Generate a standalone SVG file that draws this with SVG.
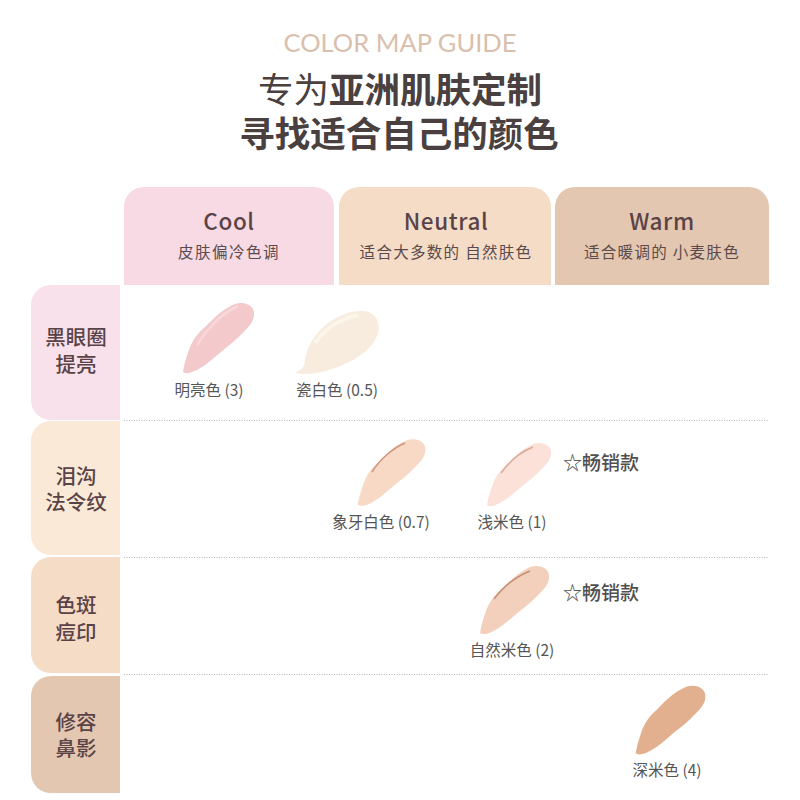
<svg xmlns="http://www.w3.org/2000/svg" width="800" height="800" viewBox="0 0 800 800">
<style>
text{font-family:"Noto Sans CJK SC","Noto Sans",sans-serif;text-anchor:middle}
.t1{font-size:35.500px;font-weight:700;fill:#4a4040}
.h{font-size:22.5px;font-weight:500;fill:#5a4347;letter-spacing:.6px}
.s{font-size:15.500px;fill:#5a4a4c;letter-spacing:1.500px}
.r{font-size:20.500px;font-weight:500;fill:#5a4347}
.l{font-size:15.500px;fill:#555}
.b{font-size:19px;font-weight:500;fill:#4f4f4f}
.d{stroke:#b5b5b5;stroke-width:1;stroke-dasharray:1 1.5;fill:none}
</style>
<defs>
<path id="sw" d="M-36 34C-35 27-32 17-29 9C-25 0-20-6-14-11C-5-20 2-27 10-31C15-34 18-35 22-35C30-35 36-30 35-23C35-19 33-16 31-13C25-6 16 3 8 9C0 15-7 22-14 27C-20 31-28 36-34 35Z"/>
<filter id="soft" x="-10%" y="-10%" width="120%" height="120%"><feGaussianBlur stdDeviation="0.5"/></filter>
</defs>
<rect width="800" height="800" fill="#fff"/>
<g id="title">
<text x="400" y="52" font-size="25.5" fill="#d9c0ae" style="font-family:'Lato','Noto Sans',sans-serif">COLOR MAP GUIDE</text>
<text class="t1"><tspan x="400" y="103"><tspan font-weight="400">专为</tspan>亚洲肌肤定制</tspan><tspan x="399" y="147">寻找适合自己的颜色</tspan></text>
</g>
<g id="col-cool"><path d="M124 285V207a20 20 0 0 1 20-20H314a20 20 0 0 1 20 20V285Z" fill="#f8dae4"/><text x="229" y="230" class="h">Cool</text><text x="229" y="258" class="s">皮肤偏冷色调</text></g>
<g id="col-neutral"><path d="M339 285V207a20 20 0 0 1 20-20H531a20 20 0 0 1 20 20V285Z" fill="#f5dcc7"/><text x="446" y="230" class="h">Neutral</text><text x="446" y="258" class="s" style="letter-spacing:1.300px">适合大多数的 自然肤色</text></g>
<g id="col-warm"><path d="M555 285V207a20 20 0 0 1 20-20H749a20 20 0 0 1 20 20V285Z" fill="#e4c7b1"/><text x="662" y="230" class="h">Warm</text><text x="662" y="258" class="s" style="letter-spacing:1.300px">适合暖调的 小麦肤色</text></g>
<g id="row-1"><path d="M120 285V420H51a20 20 0 0 1-20-20V305a20 20 0 0 1 20-20Z" fill="#f8e1ea"/><text class="r"><tspan x="76" y="345">黑眼圈</tspan><tspan x="76" y="372">提亮</tspan></text></g>
<g id="row-2"><path d="M120 421V555H51a20 20 0 0 1-20-20V441a20 20 0 0 1 20-20Z" fill="#fbe9d7"/><text class="r"><tspan x="76" y="484">泪沟</tspan><tspan x="76" y="510">法令纹</tspan></text></g>
<g id="row-3"><path d="M120 557V673H51a20 20 0 0 1-20-20V577a20 20 0 0 1 20-20Z" fill="#f5dcc7"/><text class="r"><tspan x="76" y="613">色斑</tspan><tspan x="76" y="640">痘印</tspan></text></g>
<g id="row-4"><path d="M120 676V793H51a20 20 0 0 1-20-20V696a20 20 0 0 1 20-20Z" fill="#e4c7b1"/><text class="r"><tspan x="76" y="730">修容</tspan><tspan x="76" y="756">鼻影</tspan></text></g>
<g id="connectors">
<path class="d" d="M124 420.500H769M124 557.500H769M124 674.500H769"/>
</g>
<g id="shade-bright"><use href="#sw" transform="translate(219 338)" fill="#f4c9cb"/><path d="M197 345C207 329 222 313 238 306" stroke="#f8d8da" stroke-width="2.500" fill="none" filter="url(#soft)"/><text x="209" y="396" class="l">明亮色 (3)</text></g>
<g id="shade-porcelain"><path d="M295 373C300 371 305 367 305 360C307 352 308 347 312 341C322 324 342 311 362 311C375 311 381 322 378 333C374 347 360 357 345 364C330 371 310 376 295 373Z" fill="#f7ecdd"/><path d="M315 343C325 329 340 319 358 315" stroke="#fbf5ea" stroke-width="4" fill="none" filter="url(#soft)"/><text x="337" y="396" class="l">瓷白色 (0.5)</text></g>
<g id="shade-ivory"><use href="#sw" transform="translate(392 472.500) scale(.95)" fill="#f7d9c5"/><path d="M372 472C380 459 393 448 405 443" stroke="#cf9478" stroke-width="1.500" fill="none" filter="url(#soft)"/><text x="381" y="528" class="l">象牙白色 (0.7)</text></g>
<g id="shade-light"><use href="#sw" transform="translate(519.500 474.500) scale(.9)" fill="#fbe1d8"/><path d="M501 473C509 462 520 452 533 447" stroke="#dba996" stroke-width="1.500" fill="none" filter="url(#soft)"/><text x="512" y="528" class="l">浅米色 (1)</text><text x="601" y="470" class="b">☆畅销款</text></g>
<g id="shade-natural"><use href="#sw" transform="translate(515 600) scale(.97)" fill="#f3d0bc"/><path d="M494 599C503 587 515 577 530 571" stroke="#c48f76" stroke-width="1.500" fill="none" filter="url(#soft)"/><text x="512" y="656" class="l">自然米色 (2)</text><text x="601" y="600" class="b">☆畅销款</text></g>
<g id="shade-deep"><use href="#sw" transform="translate(671 720) scale(.98)" fill="#e2b08f"/><text x="667" y="776" class="l">深米色 (4)</text></g>
</svg>
